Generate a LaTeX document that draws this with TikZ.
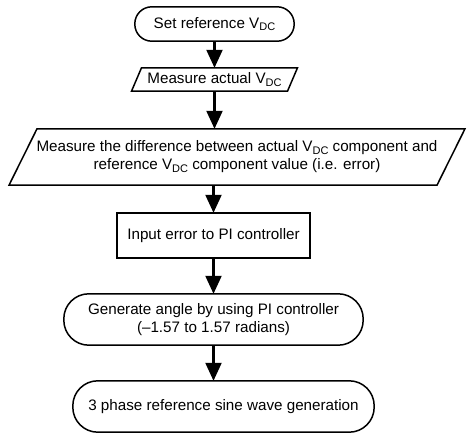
\documentclass[tikz,border=0pt]{standalone}
\usepackage{fontspec}
\setmainfont{Liberation Sans}
\usetikzlibrary{arrows.meta}
\newcommand\vdcsub{V\raisebox{-0.35ex}{\fontsize{11}{11}\selectfont DC}}
\begin{document}
\begin{tikzpicture}[x=1pt,y=-1pt,
  box/.style={draw=none,inner sep=0pt,align=center,font=\fontsize{15.2}{18}\selectfont},
  outline/.style={draw=black,line width=1.5pt,line join=miter},
  flow/.style={draw=black,line width=2.2pt,-{Triangle[length=18pt,width=16pt]}}]
\useasboundingbox (0,0) rectangle (475,441);
% nodes
\node[box,minimum width=159pt,minimum height=34pt] (n1) at (214.5,24) {Set reference \vdcsub};
\node[box,minimum width=150pt,minimum height=23pt] (n2) at (214.5,79.5) {Measure actual \vdcsub};
\node[box,minimum width=400pt,minimum height=56pt] (n3) at (237,157) {Measure the difference between actual \vdcsub{} component and\\reference \vdcsub{} component value (i.e. error)};
\node[box,minimum width=193pt,minimum height=45pt] (n4) at (213.5,235.5) {Input error to PI controller};
\node[box,minimum width=299pt,minimum height=51pt] (n5) at (213.5,319.5) {Generate angle by using PI controller\\(–1.57 to 1.57 radians)};
\node[box,minimum width=301pt,minimum height=51pt] (n6) at (223.5,406.5) {3 phase reference sine wave generation};
% outlines
\draw[outline,rounded corners=17pt] (n1.south west) rectangle (n1.north east);
\draw[outline] ([xshift=-83pt]n2.south) -- ([xshift=73pt]n2.south) -- ([xshift=83pt]n2.north) -- ([xshift=-73pt]n2.north) -- cycle;
\draw[outline] ([xshift=-228pt]n3.south) -- ([xshift=200pt]n3.south) -- ([xshift=228pt]n3.north) -- ([xshift=-200pt]n3.north) -- cycle;
\draw[outline] (n4.south west) rectangle (n4.north east);
\draw[outline,rounded corners=25pt] (n5.south west) rectangle (n5.north east);
\draw[outline,rounded corners=25pt] (n6.south west) rectangle (n6.north east);
% connectors
\draw[flow] (n1.south) -- (n2.north);
\draw[flow] (n2.south) -- (n2.south |- n3.north);
\draw[flow] (n4.north |- n3.south) -- (n4.north);
\draw[flow] (n4.south) -- (n5.north);
\draw[flow] (n5.south) -- (n5.south |- n6.north);
\end{tikzpicture}
\end{document}
